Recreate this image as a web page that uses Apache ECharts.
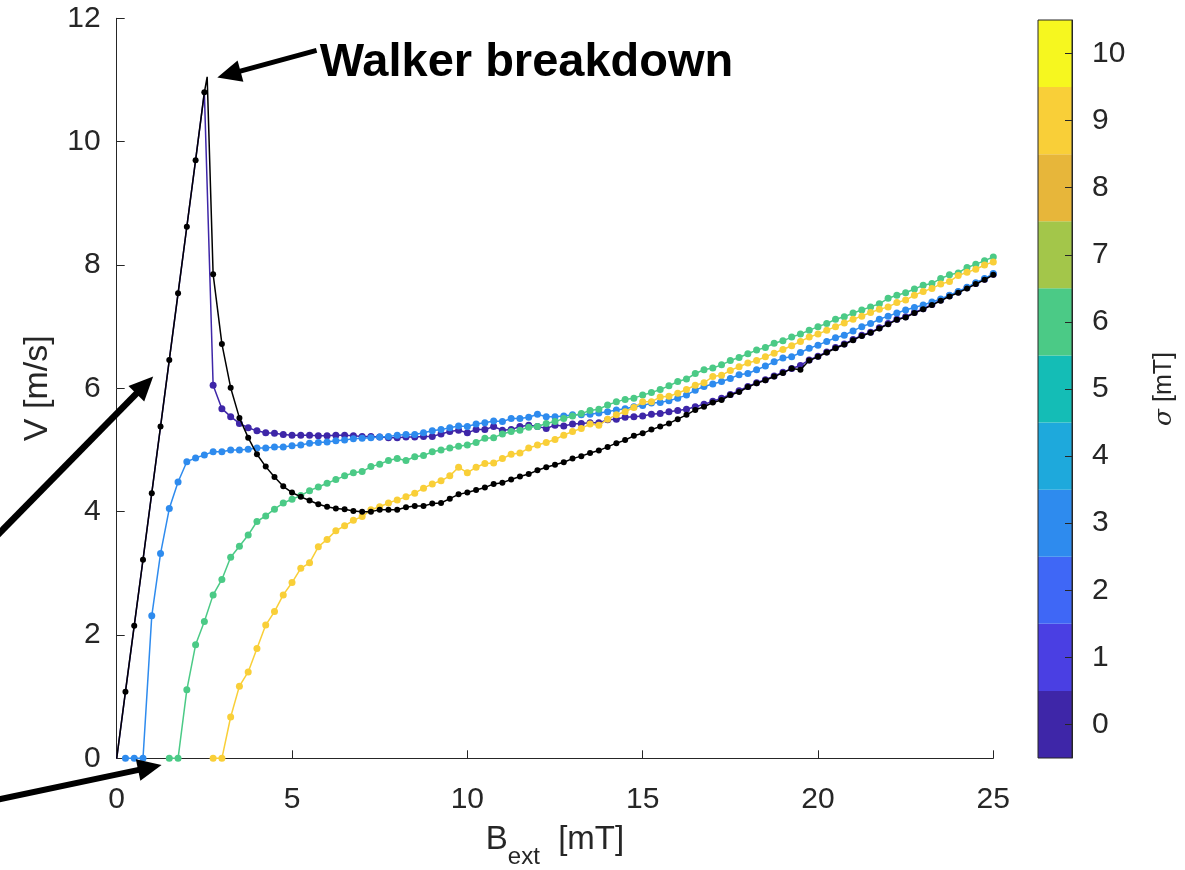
<!DOCTYPE html>
<html><head><meta charset="utf-8">
<script src="https://cdn.jsdelivr.net/npm/echarts@6/dist/echarts.min.js"></script>
<style>html,body{margin:0;padding:0;background:#fff}#c{width:1185px;height:870px}</style>
</head><body><div id="c"></div>
<script>
// ---- data ----
const B = [0,0.25,0.5,0.75,1,1.25,1.5,1.75,2,2.25,2.5,2.75,3,3.25,3.5,3.75,4,4.25,4.5,4.75,5,5.25,5.5,5.75,6,6.25,6.5,6.75,7,7.25,7.5,7.75,8,8.25,8.5,8.75,9,9.25,9.5,9.75,10,10.25,10.5,10.75,11,11.25,11.5,11.75,12,12.25,12.5,12.75,13,13.25,13.5,13.75,14,14.25,14.5,14.75,15,15.25,15.5,15.75,16,16.25,16.5,16.75,17,17.25,17.5,17.75,18,18.25,18.5,18.75,19,19.25,19.5,19.75,20,20.25,20.5,20.75,21,21.25,21.5,21.75,22,22.25,22.5,22.75,23,23.25,23.5,23.75,24,24.25,24.5,24.75,25];

const vBlack = [0,1.08,2.15,3.22, 4.30,5.38,6.46,7.54, 8.62,9.70,10.80,7.85, 6.72,6.01,5.52,5.20, 4.93,4.73,4.56,4.41, 4.31,4.24,4.18,4.12, 4.08,4.05,4.04,4.01, 4.00,4.00,4.03,4.03, 4.03,4.07,4.09,4.09, 4.13,4.14,4.21,4.28, 4.31,4.35,4.39,4.45, 4.47,4.52,4.57,4.61, 4.67,4.72,4.76,4.80, 4.86,4.90,4.95,4.99, 5.05,5.11,5.16,5.23, 5.27,5.33,5.38,5.43, 5.50,5.57,5.65,5.70, 5.77,5.81,5.89,5.94, 6.02,6.08,6.13,6.19, 6.25,6.32,6.30,6.45, 6.51,6.58,6.65,6.71, 6.78,6.85,6.90,6.97, 7.04,7.11,7.15,7.22, 7.28,7.35,7.42,7.49, 7.55,7.62,7.69,7.76, 7.84];
const blackPeak = [2.58, 11.05];

const vSigma0 = [0,1.08,2.15,3.22, 4.30,5.38,6.46,7.54, 8.62,9.70,10.80,6.05, 5.67,5.54,5.43,5.36, 5.31,5.28,5.27,5.25, 5.24,5.24,5.24,5.23, 5.23,5.24,5.24,5.23, 5.22,5.22,5.21,5.20, 5.20,5.21,5.21,5.22, 5.22,5.26,5.30,5.32, 5.28,5.33,5.33,5.38, 5.32,5.33,5.38,5.40, 5.38,5.35,5.40,5.39, 5.42,5.43,5.44,5.44, 5.49,5.50,5.53,5.54, 5.55,5.58,5.59,5.62, 5.64,5.66,5.70,5.74, 5.79,5.84,5.90,5.96, 6.03,6.09,6.14,6.20, 6.26,6.32,6.37,6.46, 6.52,6.59,6.66,6.72, 6.79,6.86,6.91,6.98, 7.05,7.12,7.16,7.23, 7.29,7.36,7.43,7.50, 7.56,7.63,7.70,7.77, 7.85];

const vSigma3 = [null,0,0,0, 2.31,3.32,4.05,4.48, 4.81,4.87,4.92,4.97, 4.97,5.00,5.00,5.01, 5.03,5.03,5.05,5.05, 5.07,5.08,5.11,5.12, 5.13,5.15,5.16,5.18, 5.19,5.20,5.21,5.22, 5.24,5.25,5.25,5.28, 5.31,5.33,5.36,5.39, 5.38,5.42,5.44,5.47, 5.46,5.51,5.51,5.53, 5.58,5.54,5.54,5.55, 5.57,5.57,5.58,5.60, 5.62,5.65,5.67,5.70, 5.72,5.76,5.77,5.80, 5.84,5.89,5.97,6.03, 6.07,6.11,6.16,6.22, 6.24,6.30,6.36,6.43, 6.49,6.51,6.58,6.65, 6.70,6.76,6.82,6.86, 6.93,7.00,7.05,7.12, 7.17,7.22,7.27,7.31, 7.35,7.40,7.45,7.51, 7.57,7.64,7.71,7.78, 7.86];

const vSigma6 = [null,null,null,null, null,null,0,0, 1.11,1.84,2.22,2.65, 2.90,3.26,3.44,3.62, 3.84,3.93,4.04,4.14, 4.20,4.26,4.34,4.40, 4.46,4.52,4.58,4.63, 4.65,4.73,4.77,4.83, 4.86,4.83,4.89,4.91, 4.97,5.00,5.03,5.06, 5.08,5.12,5.19,5.20, 5.26,5.30,5.32,5.37, 5.38,5.43,5.46,5.51, 5.55,5.59,5.64,5.66, 5.73,5.78,5.82,5.84, 5.89,5.93,5.98,6.04, 6.11,6.15,6.24,6.30, 6.33,6.38,6.45,6.50, 6.56,6.62,6.66,6.73, 6.77,6.83,6.88,6.94, 7.00,7.05,7.12,7.16, 7.22,7.27,7.32,7.37, 7.46,7.51,7.55,7.61, 7.67,7.70,7.78,7.84, 7.87,7.96,8.01,8.07, 8.13];

const vSigma9 = [null,null,null,null, null,null,null,null, null,null,null,0, 0,0.67,1.17,1.40, 1.78,2.16,2.38,2.65, 2.85,3.08,3.17,3.43, 3.55,3.69,3.77,3.86, 3.92,4.03,4.08,4.14, 4.19,4.24,4.30,4.38, 4.45,4.50,4.58,4.72, 4.63,4.72,4.78,4.79, 4.86,4.93,4.95,5.03, 5.08,5.12,5.17,5.24, 5.30,5.35,5.42,5.40, 5.50,5.57,5.62,5.69, 5.78,5.78,5.86,5.87, 5.92,5.98,6.05,6.09, 6.19,6.21,6.29,6.35, 6.41,6.45,6.51,6.57, 6.63,6.69,6.76,6.83, 6.88,6.94,7.00,7.06, 7.12,7.17,7.23,7.28, 7.32,7.39,7.43,7.51, 7.57,7.62,7.69,7.73, 7.83,7.88,7.93,8.00, 8.05];

const sigmaLevels = ['0','1','2','3','4','5','6','7','8','9','10'];
const sigmaColors = ['#3e26a8','#4a3fe3','#3f67f6','#2e8bee','#1ea9dc','#14bdb6','#4bca86','#a3c64a','#e7b63a','#f9cf38','#f6f71f'];
const walkerText = 'Walker breakdown';

// annotation anchors (data coordinates)
const walkerLabelAt = [5.79, 11.28];
const arrows = [
  {tail:[5.70, 11.48], tip:[2.87, 11.04], w:5},
  {tail:[-3.40, 3.62], tip:[1.04, 6.19], w:6.5},
  {tail:[-3.40, -0.67], tip:[1.28, -0.11], w:6}
];

// ---- build ----
const FONT = 'Liberation Sans, Arial, Helvetica, sans-serif';
const TXT = '#262626';
function pairs(vals){ const out=[]; B.forEach((x,i)=>{ if(vals[i]!==null) out.push([x, vals[i]]); }); return out; }
const blackData = pairs(vBlack);
blackData[0] = {value: blackData[0], symbolSize: 0};
const insertAt = blackData.findIndex(p=>Array.isArray(p) && p[0] > blackPeak[0]);
blackData.splice(insertAt, 0, {value: blackPeak, symbolSize: 0});

function lineSeries(name, data, color, z, size){
  return {name, type:'line', data, xAxisIndex:0, yAxisIndex:0, symbol:'circle', symbolSize:size,
    showAllSymbol:true, lineStyle:{color, width:1.5}, itemStyle:{color}, z, animation:false, clip:false};
}

const chart = echarts.init(document.getElementById('c'), null, {renderer:'canvas'});
const axisCommon = {
  axisLine:{show:true, onZero:false, lineStyle:{color:TXT, width:1}},
  axisTick:{show:true, inside:true, length:8, lineStyle:{color:TXT, width:1}},
  splitLine:{show:false},
  axisLabel:{color:TXT, fontSize:30, fontFamily:FONT}
};
// purple points hidden beneath the black rising branch are drawn smaller
const purpleSize = (v, p) => (p.dataIndex === 0 ? 0 : (p.dataIndex <= 10 ? 5 : 7));

chart.setOption({
  animation:false,
  backgroundColor:'#fff',
  grid:[
    {left:116.7, right:191.7, top:18.3, bottom:111.7, containLabel:false, outerBoundsMode:'none'},
    {left:1038, right:113, top:20, bottom:112, containLabel:false, outerBoundsMode:'none'}
  ],
  xAxis:[
    Object.assign({}, axisCommon, {type:'value', gridIndex:0, min:0, max:25, interval:5,
      axisLabel:Object.assign({}, axisCommon.axisLabel, {margin:26}),
      name:'{b|B}{s|ext}{n|  [mT]}', nameLocation:'middle', nameGap:53,
      nameTextStyle:{color:TXT, fontFamily:FONT, rich:{
        b:{fontSize:33, lineHeight:58, color:TXT, fontFamily:FONT},
        s:{fontSize:24, lineHeight:24, verticalAlign:'bottom', color:TXT, fontFamily:FONT},
        n:{fontSize:33, lineHeight:58, color:TXT, fontFamily:FONT}}}}),
    {type:'value', gridIndex:1, min:0, max:1, show:false}
  ],
  yAxis:[
    Object.assign({}, axisCommon, {type:'value', gridIndex:0, min:0, max:12, interval:2,
      axisLabel:Object.assign({}, axisCommon.axisLabel, {margin:16}),
      name:'V [m/s]', nameLocation:'middle', nameGap:62, nameRotate:90,
      nameTextStyle:{color:TXT, fontSize:34, fontFamily:FONT}}),
    {type:'category', gridIndex:1, data:sigmaLevels, position:'right', z:10,
      axisLine:{show:true, onZero:false, lineStyle:{color:TXT, width:1}},
      axisTick:{show:true, inside:true, alignWithLabel:true, length:7, lineStyle:{color:TXT, width:1}},
      axisLabel:{color:TXT, fontSize:30, fontFamily:FONT, margin:20},
      splitLine:{show:false},
      name:'{i|σ} [mT]', nameLocation:'middle', nameGap:80, nameRotate:90,
      nameTextStyle:{color:TXT, fontSize:25, fontFamily:FONT, rich:{i:{fontStyle:'italic', fontSize:25, color:TXT, fontFamily:'DejaVu Serif, serif'}}}}
  ],
  series:[
    lineSeries('σ=0', pairs(vSigma0), sigmaColors[0], 2, purpleSize),
    lineSeries('σ=3', pairs(vSigma3), sigmaColors[3], 3, 7),
    lineSeries('σ=6', pairs(vSigma6), sigmaColors[6], 4, 7),
    lineSeries('σ=9', pairs(vSigma9), sigmaColors[9], 5, 7),
    lineSeries('1D', blackData, '#000000', 6, 6),
    {type:'bar', xAxisIndex:1, yAxisIndex:1, barCategoryGap:'0%', barWidth:'100%', animation:false, z:1,
      data: sigmaLevels.map((s,i)=>({value:1, itemStyle:{color:sigmaColors[i]}}))}
  ]
});

// annotations
const g = [];
arrows.forEach(a=>{
  const t = chart.convertToPixel({gridIndex:0}, a.tail);
  const p = chart.convertToPixel({gridIndex:0}, a.tip);
  const dx=p[0]-t[0], dy=p[1]-t[1], L=Math.hypot(dx,dy), ux=dx/L, uy=dy/L;
  const hl=24, hw=11;
  const bx=p[0]-ux*hl, by=p[1]-uy*hl;
  g.push({type:'line', silent:true, z:100, shape:{x1:t[0],y1:t[1],x2:bx+ux*3,y2:by+uy*3}, style:{stroke:'#000', lineWidth:a.w}});
  g.push({type:'polygon', silent:true, z:100, shape:{points:[[p[0],p[1]],[bx-uy*hw,by+ux*hw],[bx+uy*hw,by-ux*hw]]}, style:{fill:'#000'}});
});
const wl = chart.convertToPixel({gridIndex:0}, walkerLabelAt);
g.push({type:'text', silent:true, z:100, x:wl[0], y:wl[1], style:{text:walkerText, fontSize:47, fontWeight:'bold', fontFamily:FONT, fill:'#000', align:'left', verticalAlign:'middle'}});
// colorbar frame
const cb = chart.getModel().getComponent('grid', 1).coordinateSystem.getRect();
g.push({type:'rect', silent:true, z:50, shape:{x:cb.x, y:cb.y, width:cb.width, height:cb.height}, style:{fill:'none', stroke:TXT, lineWidth:1}});
chart.setOption({graphic:g});
</script></body></html>
